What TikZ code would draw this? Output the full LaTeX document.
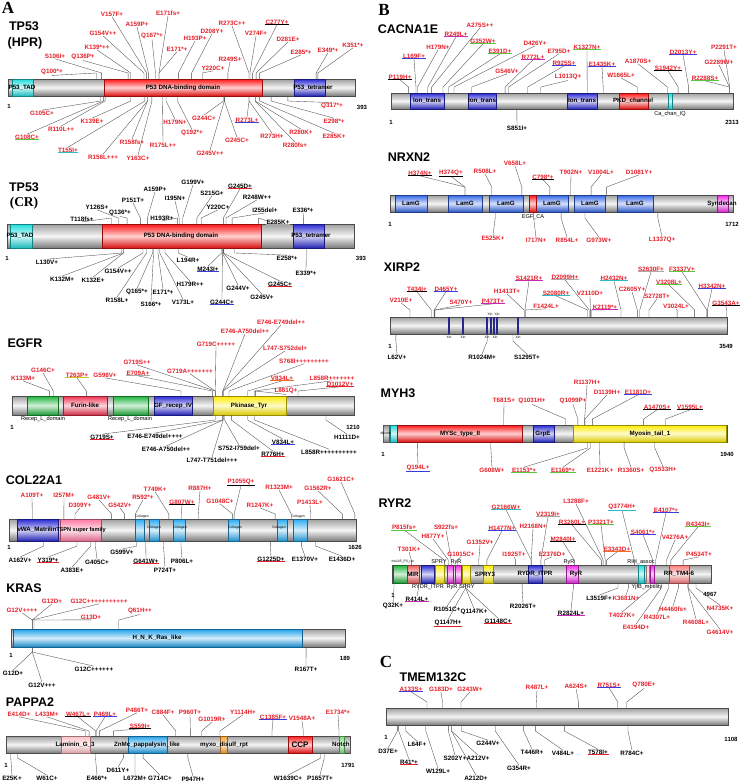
\documentclass[tikz,border=0pt]{standalone}
\usepackage{fontspec}
\setmainfont{Liberation Sans}
\newfontfamily\serifb{Liberation Serif}
\definecolor{mred}{RGB}{232,30,40}
\definecolor{ugreen}{RGB}{90,200,60}
\definecolor{ucyan}{RGB}{40,190,200}
\definecolor{ublue}{RGB}{60,60,220}
\definecolor{umag}{RGB}{200,40,180}
\definecolor{ugray}{RGB}{170,170,170}
\definecolor{uorange}{RGB}{240,110,30}
\definecolor{uyellow}{RGB}{200,200,40}
\definecolor{dred}{RGB}{255,20,20}
\definecolor{dblue}{RGB}{40,40,210}
\definecolor{dlamg}{RGB}{50,100,230}
\definecolor{dcyan}{RGB}{30,220,220}
\definecolor{dgreen}{RGB}{30,180,60}
\definecolor{dyellow}{RGB}{255,235,0}
\definecolor{dfurin}{RGB}{240,50,80}
\definecolor{dtspn}{RGB}{255,120,160}
\definecolor{dcoll}{RGB}{40,170,240}
\definecolor{dsky}{RGB}{30,160,235}
\definecolor{dlam}{RGB}{255,190,195}
\definecolor{dorange}{RGB}{250,160,40}
\definecolor{dnotch}{RGB}{120,225,120}
\definecolor{dmag}{RGB}{240,40,230}
\definecolor{dmir}{RGB}{240,90,90}
\definecolor{dtm}{RGB}{250,120,120}
\definecolor{dmyo}{RGB}{150,150,150}
\definecolor{dxin}{RGB}{40,40,140}
\newcounter{mc}
\tikzset{
 lab/.style={font=\fontsize{6.3}{7}\selectfont\bfseries, inner sep=0.4pt},
 conn/.style={draw=black!70, line width=0.35pt},
 ttlf/.style={font=\fontsize{12.5}{14}\selectfont\bfseries, inner sep=0pt},
 panel/.style={font=\serifb\fontsize{17}{18}\selectfont\bfseries, inner sep=0pt},
 dlab/.style={font=\fontsize{6.2}{7}\selectfont\bfseries, inner sep=0pt},
 slab/.style={font=\fontsize{5.6}{6}\selectfont, inner sep=0pt},
 xlab/.style={font=\fontsize{3.4}{4}\selectfont, inner sep=0pt},
 endlab/.style={font=\fontsize{6}{7}\selectfont\bfseries, inner sep=0pt},
}
\newcommand\gbar[5]{\gdef\bt{#3}\gdef\bb{#4}\gdef\xa{#1}%
 \pgfmathsetmacro\tmpxs{(#2-#1)/#5}\global\let\xs\tmpxs
 \shade[top color=black!38, bottom color=black!52, middle color=black!4, draw=black!70, line width=0.3pt] (#1,#3) rectangle (#2,#4);}
\newcommand\dom[3]{\shade[top color=#3, bottom color=#3!85!black, middle color=#3!20!white, draw=#3!60!black, line width=0.3pt] (#1,\bt) rectangle (#2,\bb);}
\newcommand\dtx[2]{\stepcounter{mc}\node[dlab] (d\arabic{mc}) at (#1,{(\bt+\bb)/2}) {#2};}
\newcommand\stx[3]{\stepcounter{mc}\node[slab] (s\arabic{mc}) at (#1,#2) {#3};}
\newcommand\ttl[3]{\stepcounter{mc}\node[ttlf] (t\arabic{mc}) at (#1,#2) {#3};}
\newcommand\lenlab[5]{\stepcounter{mc}\node[endlab] (e\arabic{mc}a) at (#1,#2) {1};\node[endlab] (e\arabic{mc}b) at (#3,#4) {#5};}
\newcommand\mup[5]{\stepcounter{mc}\edef\mcn{\arabic{mc}}%
 \coordinate (p\mcn) at ({\xa+#1*\xs},\bt);%
 \node[lab,text=\uc] (q\mcn) at (#2,#3) {#4};%
 \draw[conn] (p\mcn) -- ++(0,-\stub) -- (q\mcn.south);%
 \ifx\relax#5\relax\else\draw[draw=#5,line width=0.7pt] (q\mcn.south west) -- (q\mcn.south east);\fi}
\newcommand\mdn[5]{\stepcounter{mc}\edef\mcn{\arabic{mc}}%
 \coordinate (p\mcn) at ({\xa+#1*\xs},\bb);%
 \node[lab,text=\dc] (q\mcn) at (#2,#3) {#4};%
 \draw[conn] (p\mcn) -- ++(0,\stub) -- (q\mcn.north);%
 \ifx\relax#5\relax\else\draw[draw=#5,line width=0.7pt] (q\mcn.south west) -- (q\mcn.south east);\fi}
\begin{document}
\begin{tikzpicture}[x=1pt,y=-1pt]
\useasboundingbox (0,0) rectangle (743,782);
\fill[white] (0,0) rectangle (743,782);
\node[panel] (pA) at (8,8) {A};
\node[panel] (pB) at (384,10) {B};
\node[panel] (pC) at (386,662) {C};
% ================= TP53 HPR
\ttl{24}{26}{TP53}\ttl{25}{43}{(HPR)}
\gbar{8}{355}{79}{96}{393}
\dom{12}{33}{dcyan}\dom{104}{262}{dred}\dom{294}{325}{dblue}
\dtx{22}{P53\_TAD}\dtx{183}{P53 DNA-binding domain}\dtx{313}{P53\_tetramer}
\lenlab{9}{106}{362}{107}{393}
\def\uc{mred}\def\dc{mred}\def\stub{6}
\mup{157}{112}{14}{V157F+}{}
\mup{159}{137}{24}{A159P+}{}
\mup{171}{168}{13}{E171fs+}{}
\mup{154}{103}{33}{G154V++}{}
\mup{167}{152}{36}{Q167*+}{}
\mup{139}{97}{47}{K139*++}{}
\mup{171}{177}{49}{E171*+}{}
\mup{193}{195}{38}{H193P+}{}
\mup{208}{212}{31}{D208Y+}{}
\mup{273}{232}{23}{R273C++}{}
\mup{277}{277}{22}{C277Y+}{black}
\mup{274}{256}{33}{V274F+}{}
\mup{281}{288}{39}{D281E+}{}
\mup{285}{301}{52}{E285*+}{}
\mup{349}{328}{50}{E349*+}{}
\mup{351}{353}{45}{K351*+}{}
\mup{106}{55}{56}{S106I+}{}
\mup{136}{83}{57}{Q136P+}{}
\mup{249}{230}{59}{R249S+}{}
\mup{220}{213}{68}{Y220C+}{}
\mup{100}{52}{72}{Q100*+}{}
\def\stub{5}
\mdn{105}{42}{113}{G105C+}{}
\mdn{110}{61}{129}{R110L++}{}
\mdn{139}{92}{121}{K139E+}{}
\mdn{179}{175}{122}{H179N+}{}
\mdn{192}{192}{133}{Q192*+}{}
\mdn{244}{204}{118}{G244C+}{}
\mdn{273}{247}{120}{R273L+}{ublue}
\mdn{298}{334}{121}{E298*+}{}
\mdn{280}{301}{132}{R280K+}{}
\mdn{285}{334}{136}{E285K+}{}
\mdn{317}{332}{106}{Q317*+}{}
\mdn{108}{27}{137}{G108C+}{ugreen}
\mdn{155}{68}{150}{T155I+}{ucyan}
\mdn{158}{103}{157}{R158L+++}{}
\mdn{158}{132}{142}{R158fs+}{}
\mdn{175}{163}{145}{R175L++}{}
\mdn{163}{138}{158}{Y163C+}{}
\mdn{245}{210}{153}{G245V++}{}
\mdn{245}{237}{140}{G245C+}{}
\mdn{273}{272}{136}{R273H+}{}
\mdn{280}{295}{145}{R280fs+}{}
% ================= TP53 CR
\ttl{24}{187}{TP53}
\node[font=\serifb\fontsize{13.5}{14}\selectfont\bfseries, inner sep=0pt] (tcr) at (24,203) {(CR)};
\gbar{7}{354}{224}{248}{393}
\dom{10}{32}{dcyan}\dom{102}{261}{dred}\dom{293}{324}{dblue}
\dtx{20}{P53\_TAD}\dtx{181}{P53 DNA-binding domain}\dtx{311}{P53\_tetramer}
\lenlab{7}{258}{361}{258}{393}
\def\uc{black}\def\dc{black}\def\stub{6}
\mup{199}{193}{182}{G199V+}{}
\mup{159}{155}{189}{A159P+}{}
\mup{245}{240}{186}{G245D+}{mred}
\mup{151}{133}{200}{P151T+}{}
\mup{195}{175}{198}{I195N+}{}
\mup{215}{212}{193}{S215G+}{}
\mup{248}{257}{197}{R248W++}{}
\mup{126}{97}{207}{Y126S+}{}
\mup{136}{120}{213}{Q136*+}{}
\mup{220}{218}{207}{Y220C+}{}
\mup{255}{265}{210}{I255del+}{}
\mup{336}{303}{210}{E336*+}{}
\mup{118}{82}{219}{T118fs+}{}
\mup{193}{162}{218}{H193R+}{}
\mup{285}{278}{222}{E285K+}{ugray}
\def\stub{5}
\mdn{130}{47}{262}{L130V+}{}
\mdn{194}{188}{260}{L194R+}{}
\mdn{258}{287}{258}{E258*+}{}
\mdn{132}{62}{279}{K132M+}{}
\mdn{132}{93}{280}{K132E+}{}
\mdn{154}{118}{271}{G154V++}{}
\mdn{243}{208}{269}{M243I+}{ublue}
\mdn{179}{190}{284}{H179R++}{}
\mdn{245}{280}{284}{G245C+}{mred}
\mdn{339}{306}{273}{E339*+}{}
\mdn{244}{238}{288}{G244V+}{}
\mdn{158}{117}{300}{R158L+}{}
\mdn{165}{137}{292}{Q165*+}{}
\mdn{171}{163}{292}{E171*+}{}
\mdn{173}{183}{302}{V173L+}{}
\mdn{245}{262}{297}{G245V+}{}
\mdn{166}{151}{304}{S166*+}{}
\mdn{244}{222}{302}{G244C+}{ublue}
% ================= EGFR
\ttl{25}{343}{EGFR}
\gbar{12}{354}{396}{415}{1210}
\dom{27}{58}{dgreen}\dom{63}{107}{dfurin}\dom{113}{148}{dgreen}\dom{154}{192}{dblue}\dom{213}{286}{dyellow}
\dtx{85}{Furin-like}\dtx{173}{GF\_recep\_IV}\dtx{249}{Pkinase\_Tyr}
\stx{43}{419}{Recep\_L\_domain}\stx{130}{419}{Recep\_L\_domain}
\lenlab{12}{427}{353}{427}{1210}
\def\uc{mred}\def\dc{black}\def\stub{5}
\mup{746}{281}{322}{E746-E749del++}{}
\mup{746}{245}{331}{E746-A750del++}{}
\mup{719}{216}{344}{G719C+++++}{}
\mup{747}{285}{348}{L747-S752del+}{}
\mup{719}{137}{362}{G719S++}{}
\mup{768}{304}{361}{S768I+++++++++}{}
\mup{719}{190}{371}{G719A+++++++}{}
\mup{709}{138}{373}{E709A+}{ugray}
\mup{598}{105}{375}{G598V+}{}
\mup{263}{77}{375}{T263P+}{uyellow}
\mup{146}{43}{370}{G146C+}{}
\mup{133}{23}{378}{K133M+}{}
\mup{834}{282}{378}{V834L+}{uorange}
\mup{858}{332}{378}{L858R+++++++}{}
\mup{1012}{340}{384}{D1012V+}{mred}
\mup{861}{286}{391}{L861Q+}{}
\mdn{719}{102}{437}{G719S+}{mred}
\mdn{746}{155}{436}{E746-E749del++++}{}
\mdn{746}{166}{449}{E746-A750del++}{}
\mdn{752}{239}{448}{S752-I759del+}{}
\mdn{834}{283}{442}{V834L+}{ublue}
\mdn{776}{273}{454}{R776H+}{mred}
\mdn{747}{212}{460}{L747-T751del+++}{}
\mdn{858}{329}{452}{L858R++++++++++}{}
\mdn{1111}{347}{437}{H1111D+}{}
% ================= COL22A1
\ttl{34}{480}{COL22A1}
\gbar{9}{356}{519}{541}{1626}
\dom{17}{58}{dblue}\dom{60}{101}{dtspn}
\dom{135}{144}{dcoll}\dom{149}{159}{dcoll}\dom{173}{185}{dcoll}\dom{228}{239}{dcoll}\dom{277}{287}{dcoll}\dom{293}{307}{dcoll}
\dtx{37}{vWA\_Matrilin}
\stepcounter{mc}\node[dlab,font=\fontsize{5.6}{6}\selectfont\bfseries] (d\arabic{mc}) at (81,530) {TSPN super family};
\stepcounter{mc}\node[xlab] (x\arabic{mc}a) at (142,516.5) {Collagen};
\node[xlab] (x\arabic{mc}b) at (154,528) {Collagen};
\node[xlab] (x\arabic{mc}c) at (180,528) {Collagen};
\node[xlab] (x\arabic{mc}d) at (235,528) {Collagen};
\node[xlab] (x\arabic{mc}e) at (279,528) {Collagen};
\node[xlab] (x\arabic{mc}f) at (298,516.5) {Collagen};
\lenlab{9}{547}{355}{547}{1626}
\def\uc{mred}\def\dc{black}\def\stub{5}
\mup{109}{32}{495}{A109T+}{}
\mup{257}{64}{495}{I257M+}{}
\mup{309}{80}{505}{D309Y+}{}
\mup{481}{99}{497}{G481V+}{}
\mup{542}{120}{505}{G542V+}{}
\mup{592}{143}{497}{R592*+}{}
\mup{749}{155}{489}{T749K+}{}
\mup{807}{182}{502}{G807W+}{black}
\mup{887}{200}{488}{R887H+}{}
\mup{1055}{241}{482}{P1055Q+}{black}
\mup{1048}{220}{501}{G1048C+}{}
\mup{1247}{260}{505}{R1247K+}{}
\mup{1323}{279}{487}{R1323M+}{}
\mup{1562}{318}{488}{G1562R+}{}
\mup{1621}{341}{479}{G1621C+}{}
\mup{1413}{310}{502}{P1413L+}{}
\mdn{162}{20}{560}{A162V+}{}
\mdn{319}{48}{560}{Y319*+}{mred}
\mdn{383}{72}{570}{A383E+}{}
\mdn{405}{97}{562}{G405C+}{}
\mdn{599}{122}{552}{G599V+}{}
\mdn{641}{146}{561}{G641W+}{mred}
\mdn{724}{165}{570}{P724T+}{}
\mdn{806}{182}{561}{P806L+}{}
\mdn{1225}{271}{559}{G1225D+}{mred}
\mdn{1370}{305}{559}{E1370V+}{}
\mdn{1436}{342}{559}{E1436D+}{}
% ================= KRAS
\ttl{24}{588}{KRAS}
\gbar{11}{345}{629}{647}{189}
\dom{13}{302}{dsky}
\dtx{157}{H\_N\_K\_Ras\_like}
\lenlab{11}{655}{345}{658}{189}
\def\uc{mred}\def\dc{black}\def\stub{9}
\mup{12}{22}{610}{G12V++++}{}
\mup{12}{52}{601}{G12D+}{}
\mup{12}{99}{601}{G12C+++++++++++}{}
\mup{13}{91}{617}{G13D+}{}
\mup{61}{140}{611}{Q61H++}{}
\def\stub{5}
\mdn{12}{13}{673}{G12D+}{}
\mdn{12}{42}{685}{G12V+++}{}
\mdn{12}{94}{669}{G12C++++++}{}
\mdn{167}{306}{669}{R167T+}{}
% ================= PAPPA2
\ttl{30}{702}{PAPPA2}
\gbar{6}{350}{736}{753}{1791}
\dom{61}{90}{dlam}\dom{128}{167}{dsky}\dom{220}{227}{dorange}\dom{288}{312}{dred}\dom{339}{344}{dnotch}
\dtx{75}{Laminin\_G\_3}\dtx{147}{ZnMc\_pappalysin\_like}\dtx{224}{myxo\_disulf\_rpt}
\stepcounter{mc}\node[dlab,font=\fontsize{8}{9}\selectfont\bfseries] (d\arabic{mc}) at (300,744.5) {CCP};
\dtx{341}{Notch}
\lenlab{6}{765}{348}{765}{1791}
\def\uc{mred}\def\dc{black}\def\stub{5}
\mup{414}{19}{714}{E414D+}{}
\mup{433}{47}{714}{L433M+}{}
\mup{467}{78}{714}{W467L+}{black}
\mup{469}{105}{714}{P469L+}{ublue}
\mup{486}{137}{710}{P486T+}{}
\mup{559}{140}{726}{S559I+}{black}
\mup{884}{163}{712}{C884F+}{}
\mup{960}{190}{712}{P960T+}{}
\mup{1019}{212}{719}{G1019R+}{}
\mup{1114}{243}{712}{Y1114H+}{}
\mup{1385}{273}{717}{C1385F+}{ublue}
\mup{1548}{302}{718}{V1548A+}{}
\mup{1734}{338}{712}{E1734*+}{}
\mdn{25}{12}{778}{E25K+}{}
\mdn{61}{47}{778}{W61C+}{}
\mdn{466}{97}{778}{E466*+}{}
\mdn{611}{118}{770}{D611Y+}{}
\mdn{672}{135}{778}{L672M+}{}
\mdn{714}{160}{778}{G714C+}{}
\mdn{947}{193}{779}{P947H+}{}
\mdn{1639}{288}{778}{W1639C+}{}
\mdn{1657}{320}{778}{P1657T+}{}
% ================= CACNA1E
\ttl{408}{29}{CACNA1E}
\gbar{391}{733}{93}{109}{2313}
\dom{410}{444}{dblue}\dom{468}{496}{dblue}\dom{567}{597}{dblue}\dom{619}{648}{dred}\dom{668}{672}{dcyan}
\dtx{427}{Ion\_trans}\dtx{482}{Ion\_trans}\dtx{582}{Ion\_trans}\dtx{633}{PKD\_channel}
\stx{670}{114}{Ca\_chan\_IQ}
\lenlab{391}{122}{732}{122}{2313}
\def\uc{mred}\def\dc{black}\def\stub{6}
\mup{275}{480}{25}{A275S++}{}
\mup{249}{456}{34}{R249L+}{umag}
\mup{352}{483}{41}{G352W+}{ugreen}
\mup{179}{438}{47}{H179N+}{}
\mup{391}{500}{51}{E391D+}{ugreen}
\mup{169}{414}{56}{L169F+}{ublue}
\mup{426}{535}{43}{D426Y+}{}
\mup{772}{533}{57}{R772L+}{umag}
\mup{795}{559}{51}{E795D+}{}
\mup{1327}{587}{47}{K1327N+}{ugreen}
\mup{925}{564}{63}{R925S+}{ublue}
\mup{546}{507}{71}{G546V+}{}
\mup{1013}{568}{77}{L1013Q+}{}
\mup{119}{400}{77}{P119H+}{black}
\mup{1435}{602}{64}{E1435K+}{ublue}
\mup{1665}{621}{75}{W1665L+}{}
\mup{1870}{638}{61}{A1870S+}{}
\mup{2013}{683}{52}{D2013Y+}{ublue}
\mup{1942}{668}{68}{S1942Y+}{black}
\mup{2291}{724}{47}{P2291T+}{}
\mup{2289}{719}{62}{G2289W+}{}
\mup{2288}{705}{78}{R2288S+}{ugreen}
\mdn{851}{517}{128}{S851I+}{}
% ================= NRXN2
\ttl{409}{157}{NRXN2}
\gbar{390}{733}{195}{212}{1712}
\dom{395}{427}{dlamg}\dom{448}{482}{dlamg}\dom{489}{523}{dlamg}\dom{536}{568}{dlamg}\dom{574}{605}{dlamg}\dom{617}{653}{dlamg}
\dom{529}{536}{dred}\dom{717}{728}{dmag}
\dtx{411}{LamG}\dtx{465}{LamG}\dtx{506}{LamG}\dtx{552}{LamG}\dtx{590}{LamG}\dtx{635}{LamG}\dtx{722}{Syndecan}
\stx{533}{217}{EGF\_CA}
\lenlab{390}{224}{732}{224}{1712}
\def\uc{mred}\def\dc{mred}\def\stub{8}
\mup{374}{420}{173}{H374N+}{black}
\mup{374}{451}{173}{H374Q+}{black}
\mup{508}{485}{171}{R508L+}{}
\mup{658}{515}{163}{V658L+}{}
\mup{798}{543}{177}{C798*+}{black}
\mup{902}{571}{172}{T902N+}{}
\mup{1004}{601}{172}{V1004L+}{}
\mup{1081}{639}{172}{D1081Y+}{}
\def\stub{6}
\mdn{525}{493}{238}{E525K+}{}
\mdn{717}{536}{240}{I717N+}{}
\mdn{854}{567}{240}{R854L+}{}
\mdn{973}{599}{240}{G973W+}{}
\mdn{1337}{662}{240}{L1337Q+}{}
% ================= XIRP2
\ttl{402}{267}{XIRP2}
\gbar{390}{727}{317}{334}{3549}
\foreach \xx in {449,463,487,491,494,497,518} {\fill[dxin] (\xx-0.9,\bt) rectangle (\xx+0.9,\bb);}
\stepcounter{mc}
\node[xlab] (x\arabic{mc}a) at (449,337.5) {Xin};
\node[xlab] (x\arabic{mc}b) at (463,337.5) {Xin};
\node[xlab] (x\arabic{mc}c) at (487,337.5) {Xin};
\node[xlab] (x\arabic{mc}d) at (495,337.5) {Xin};
\node[xlab] (x\arabic{mc}e) at (518,337.5) {Xin};
\node[xlab] (x\arabic{mc}f) at (490,314) {Xin};
\node[xlab] (x\arabic{mc}g) at (497,314) {Xin};
\lenlab{390}{346}{726}{346}{3549}
\def\uc{mred}\def\dc{black}\def\stub{7}
\mup{2630}{651}{269}{S2630F+}{ugray}
\mup{3337}{682}{269}{F3337V+}{ugreen}
\mup{1421}{529}{278}{S1421R+}{umag}
\mup{2099}{565}{277}{D2099H+}{ugray}
\mup{2432}{614}{278}{H2432N+}{ucyan}
\mup{3208}{669}{282}{V3208L+}{ugreen}
\mup{3342}{712}{286}{H3342N+}{ublue}
\mup{434}{417}{289}{T434I+}{black}
\mup{465}{446}{289}{D465Y+}{ublue}
\mup{1413}{507}{291}{H1413T+}{}
\mup{2605}{632}{289}{C2605Y+}{}
\mup{2080}{556}{293}{S2080R+}{ucyan}
\mup{2110}{590}{293}{V2110D+}{}
\mup{210}{401}{300}{V210E+}{}
\mup{470}{461}{302}{S470Y+}{}
\mup{473}{493}{301}{P473T+}{umag}
\mup{2728}{657}{296}{S2728T+}{}
\mup{1424}{546}{306}{F1424L+}{}
\mup{2119}{605}{307}{K2119*+}{umag}
\mup{3024}{676}{306}{V3024L+}{}
\mup{3543}{726}{303}{G3543A+}{black}
\mdn{62}{397}{357}{L62V+}{}
\mdn{1024}{482}{357}{R1024M+}{}
\mdn{1295}{527}{357}{S1295T+}{}
% ================= MYH3
\ttl{398}{393}{MYH3}
\gbar{383}{727}{425}{442}{1940}
\dom{383}{389}{dmyo}\dom{390}{397}{dcyan}\dom{397}{522}{dred}\dom{533}{554}{dblue}\dom{573}{726}{dyellow}
\stepcounter{mc}\node[xlab] (x\arabic{mc}) at (386,433.5) {Myosin};
\dtx{460}{MYSc\_type\_II}\dtx{543}{GrpE}\dtx{650}{Myosin\_tail\_1}
\lenlab{383}{454}{727}{454}{1940}
\def\uc{mred}\def\dc{mred}\def\stub{6}
\mup{1137}{587}{382}{R1137H+}{}
\mup{1139}{607}{392}{D1139H+}{}
\mup{1181}{638}{392}{E1181D+}{ublue}
\mup{681}{504}{400}{T681S+}{}
\mup{1031}{532}{401}{Q1031H+}{}
\mup{1099}{573}{401}{Q1099P+}{}
\mup{1470}{657}{407}{A1470S+}{black}
\mup{1595}{690}{407}{V1595L+}{black}
\mdn{194}{418}{468}{Q194L+}{ublue}
\mdn{608}{492}{470}{G608W+}{}
\mdn{1153}{524}{470}{E1153*+}{ugreen}
\mdn{1169}{563}{470}{E1169*+}{ugreen}
\mdn{1221}{600}{470}{E1221K+}{}
\mdn{1360}{631}{470}{R1360S+}{}
\mdn{1533}{663}{470}{Q1533H+}{}
% ================= RYR2
\ttl{395}{503}{RYR2}
\gbar{392}{711}{565}{583}{4967}
\dom{393}{407}{dgreen}\dom{407}{419}{dmir}\dom{421}{434}{dblue}\dom{435}{444}{dyellow}
\dom{447}{453}{dmag}\dom{455}{461}{dmag}\dom{462}{470}{dyellow}\dom{483}{493}{dyellow}
\dom{528}{542}{dblue}\dom{566}{578}{dmag}\dom{638}{644}{dcyan}\dom{646}{649}{dlam}\dom{650}{654}{dmag}\dom{669}{689}{dtm}
\dtx{413}{MIR}\dtx{485}{SPRY3}\dtx{535}{RYDR\_ITPR}\dtx{576}{RyR}\dtx{679}{RR\_TM4-6}
\stepcounter{mc}\node[xlab] (x\arabic{mc}) at (403,562) {Ins145\_P3\_rec};
\stx{439}{562}{SPRY}\stx{456}{562}{RyR}\stx{569}{562}{RyR}\stx{641}{562}{RIH\_assoc}
\stx{428}{587}{RYDR\_ITPR}\stx{452}{587}{RyR}\stx{467}{587}{SPRY}\stx{647}{587}{YjfB\_motility}
\lenlab{393}{595}{710}{594}{4967}
\def\uc{mred}\def\dc{black}\def\stub{5}
\mup{3288}{576}{501}{L3288F+}{}
\mup{2166}{506}{507}{G2166W+}{ucyan}
\mup{3774}{622}{507}{Q3774H+}{ucyan}
\mup{4107}{666}{510}{E4107*+}{ublue}
\mup{2319}{548}{514}{V2319I+}{ugray}
\mup{3260}{572}{522}{R3260L+}{black}
\mup{3321}{601}{522}{P3321T+}{ugreen}
\mup{4343}{698}{524}{R4343I+}{ugreen}
\mup{815}{404}{527}{P815fs+}{ugreen}
\mup{922}{446}{527}{S922fs+}{}
\mup{1477}{502}{528}{H1477N+}{ublue}
\mup{2168}{533}{526}{H2168N+}{}
\mup{877}{433}{536}{H877Y+}{}
\mup{2840}{563}{539}{M2840I+}{black}
\mup{4061}{643}{532}{S4061*+}{ublue}
\mup{4276}{675}{537}{V4276A+}{}
\mup{1352}{480}{542}{G1352V+}{}
\mup{301}{409}{549}{T301K+}{}
\mup{1015}{461}{554}{G1015C+}{}
\mup{3343}{617}{549}{E3343D+}{uorange}
\mup{1925}{514}{554}{I1925T+}{}
\mup{2376}{552}{554}{E2376D+}{}
\mup{4534}{699}{554}{P4534T+}{}
\mdn{32}{393}{606}{Q32K+}{}
\mdn{414}{417}{599}{R414L+}{umag}
\mdn{1051}{447}{609}{R1051C+}{}
\mdn{1147}{474}{612}{Q1147K+}{}
\mdn{1147}{448}{623}{Q1147H+}{mred}
\mdn{1148}{498}{621}{G1148C+}{mred}
\mdn{2026}{523}{606}{R2026T+}{}
\mdn{2824}{571}{613}{R2824L+}{umag}
\mdn{3519}{599}{598}{L3519F+}{}
\def\dc{mred}
\mdn{3681}{626}{598}{K3681N+}{}
\mdn{4027}{622}{615}{T4027K+}{}
\mdn{4194}{636}{627}{E4194D+}{}
\mdn{4307}{657}{617}{R4307L+}{}
\mdn{4460}{673}{609}{H4460fs+}{}
\mdn{4735}{720}{608}{N4735K+}{}
\mdn{4608}{696}{622}{R4608L+}{}
\mdn{4614}{720}{632}{G4614V+}{}
% ================= TMEM132C
\ttl{433}{677}{TMEM132C}
\gbar{386}{728}{708}{725}{1108}
\lenlab{386}{737}{731}{739}{1108}
\def\uc{mred}\def\dc{black}\def\stub{6}
\mup{133}{411}{689}{A133S+}{ublue}
\mup{183}{441}{689}{G183D+}{}
\mup{243}{470}{689}{G243W+}{}
\mup{487}{537}{687}{R487L+}{}
\mup{624}{576}{686}{A624S+}{}
\mup{751}{609}{685}{R751S+}{ublue}
\mup{780}{644}{685}{Q780E+}{}
\mdn{37}{388}{751}{D37E+}{}
\mdn{64}{417}{744}{L64F+}{}
\mdn{41}{409}{762}{R41*+}{mred}
\mdn{129}{438}{771}{W129L+}{}
\mdn{202}{455}{758}{S202Y+}{}
\mdn{212}{478}{758}{A212V+}{}
\mdn{212}{476}{778}{A212D+}{}
\mdn{244}{488}{743}{G244V+}{}
\mdn{354}{519}{768}{G354R+}{}
\mdn{446}{532}{752}{T446R+}{}
\mdn{484}{563}{753}{V484L+}{}
\mdn{578}{598}{752}{T578I+}{mred}
\mdn{784}{632}{753}{R784C+}{}
\end{tikzpicture}
\end{document}
